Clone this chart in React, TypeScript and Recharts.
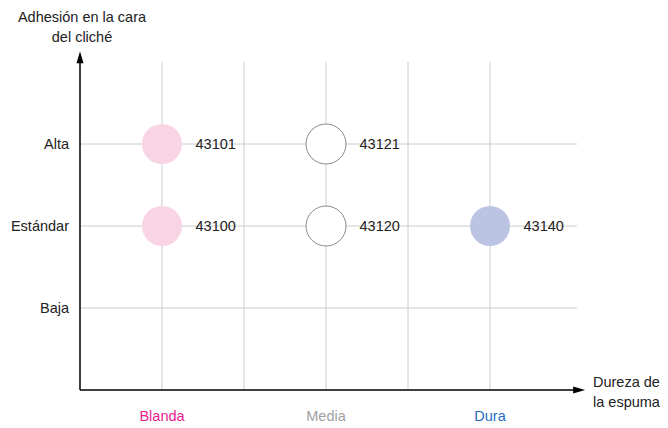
import React from 'react';
import {
  ScatterChart,
  Scatter,
  XAxis,
  YAxis,
  ReferenceLine,
  LabelList,
} from 'recharts';

const HARDNESS = ['Blanda', 'Media', 'Dura'];
const HARDNESS_COLORS = ['#e91e8c', '#a0a0a0', '#1f6cc0'];
const ADHESION = ['Baja', 'Estándar', 'Alta'];

const POINT_HARDNESS = ['Blanda', 'Blanda', 'Media', 'Media', 'Dura'];
const POINT_ADHESION = ['Alta', 'Estándar', 'Alta', 'Estándar', 'Estándar'];
const POINT_CODES = ['43101', '43100', '43121', '43120', '43140'];
const POINT_STYLE = ['soft', 'soft', 'medium', 'medium', 'hard'];

const FILLS: Record<string, { fill: string; stroke: string }> = {
  soft: { fill: '#f9d4e5', stroke: 'none' },
  medium: { fill: '#ffffff', stroke: '#8a8a8a' },
  hard: { fill: '#bcc4e4', stroke: 'none' },
};

// categories sit on odd x positions, grid lines in between
const xPos = (h: string) => HARDNESS.indexOf(h) * 2 + 1;
const yPos = (a: string) => ADHESION.indexOf(a) + 1;

const X_GRID = [1, 2, 3, 4, 5];
const Y_GRID = [1, 2, 3];

const data = POINT_CODES.map((code, i) => ({
  x: xPos(POINT_HARDNESS[i]),
  y: yPos(POINT_ADHESION[i]),
  code,
  kind: POINT_STYLE[i],
}));

if (typeof document !== 'undefined') document.body.style.margin = '0';

const FONT = '"Liberation Sans", Arial, Helvetica, sans-serif';
const FS = 14.5;
const GRID = '#cccccc';

const XTick = (props: any) => {
  const { x, y, payload } = props;
  const idx = (payload.value - 1) / 2;
  if (!Number.isInteger(idx) || !HARDNESS[idx]) return null;
  return (
    <text x={x} y={y} dy={23} textAnchor="middle" fontSize={FS} fontFamily={FONT} fill={HARDNESS_COLORS[idx]}>
      {HARDNESS[idx]}
    </text>
  );
};

const YTick = (props: any) => {
  const { x, y, payload } = props;
  return (
    <text x={x} y={y} dy={5} textAnchor="end" fontSize={FS} fontFamily={FONT} fill="#222">
      {ADHESION[payload.value - 1]}
    </text>
  );
};

const Dot = (props: any) => {
  const { cx, cy, payload } = props;
  const s = FILLS[payload.kind];
  return <circle cx={cx} cy={cy} r={20} fill={s.fill} stroke={s.stroke} strokeWidth={1} />;
};

const Arrow = (props: any) => {
  const { x1, y1, x2, y2 } = props;
  const horiz = Math.abs(y2 - y1) < 1;
  const head = horiz
    ? `${x2},${y2} ${x2 - 12},${y2 - 3.5} ${x2 - 12},${y2 + 3.5}`
    : `${x2},${y2} ${x2 - 3.5},${y2 + 12} ${x2 + 3.5},${y2 + 12}`;
  return (
    <g>
      <line x1={x1} y1={y1} x2={horiz ? x2 - 10 : x2} y2={horiz ? y2 : y2 + 10} stroke="#000" strokeWidth={1.5} />
      <polygon points={head} fill="#000" />
    </g>
  );
};

export default function App() {
  return (
    <div style={{ position: 'relative', width: 668, height: 428, background: '#fff', fontFamily: FONT }}>
      <ScatterChart width={668} height={428} margin={{ top: 62, right: 96, left: 0, bottom: 0 }}>
        <XAxis
          type="number"
          dataKey="x"
          domain={[0, 6]}
          ticks={X_GRID}
          height={38}
          axisLine={false}
          tickLine={false}
          tick={<XTick />}
        />
        <YAxis
          type="number"
          dataKey="y"
          domain={[0, 4]}
          ticks={Y_GRID}
          width={80}
          axisLine={false}
          tickLine={false}
          tickSize={0}
          tickMargin={11}
          tick={<YTick />}
        />
        {X_GRID.map((v) => (
          <ReferenceLine key={`vx${v}`} x={v} stroke={GRID} strokeWidth={1} />
        ))}
        {Y_GRID.map((v) => (
          <ReferenceLine
            key={`hy${v}`}
            segment={[{ x: 0, y: v }, { x: 6.06, y: v }]}
            ifOverflow="visible"
            stroke={GRID}
            strokeWidth={1}
          />
        ))}
        <ReferenceLine
          segment={[{ x: 0, y: 0 }, { x: 6.16, y: 0 }]}
          ifOverflow="visible"
          shape={<Arrow />}
        />
        <ReferenceLine
          segment={[{ x: 0, y: 0 }, { x: 0, y: 4.13 }]}
          ifOverflow="visible"
          shape={<Arrow />}
        />
        <Scatter data={data} shape={<Dot />} isAnimationActive={false}>
          <LabelList
            dataKey="code"
            position="right"
            offset={29}
            fontSize={FS}
            fontFamily={FONT}
            fill="#222"
          />
        </Scatter>
      </ScatterChart>
      <div
        style={{
          position: 'absolute',
          left: 0,
          top: 7,
          width: 164,
          textAlign: 'center',
          fontSize: FS,
          lineHeight: '20px',
          color: '#222',
        }}
      >
        Adhesión en la cara
        <br />
        del cliché
      </div>
      <div
        style={{
          position: 'absolute',
          left: 593,
          top: 372,
          fontSize: FS,
          lineHeight: '20px',
          color: '#222',
          whiteSpace: 'nowrap',
        }}
      >
        Dureza de
        <br />
        la espuma
      </div>
    </div>
  );
}
